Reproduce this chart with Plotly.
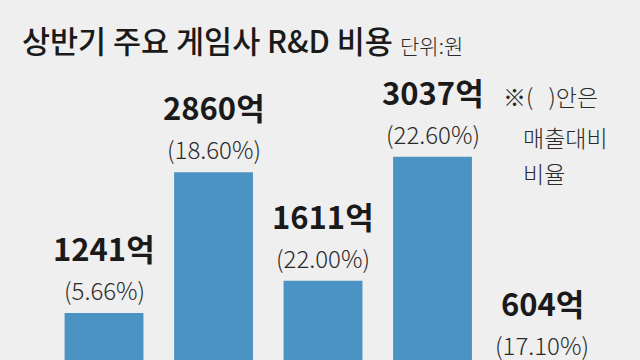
import plotly.graph_objects as go

# Data
positions = [0, 1, 2, 3, 4]
values = [1241, 2860, 1611, 3037, 604]
value_labels = ["1241억", "2860억", "1611억", "3037억", "604억"]
ratio_labels = ["(5.66%)", "(18.60%)", "(22.00%)", "(22.60%)", "(17.10%)"]

title_text = "상반기 주요 게임사 R&D 비용"
unit_text = "단위:원"
note_lines = ["※(   )안은", "매출대비", "비율"]

W, H = 640, 360
BG = "#efefef"
BAR = "#4a93c3"
FONT = "Noto Sans CJK KR"

Y_RANGE = [701, 4839]      # bottom of the bars is cropped, as in the source
LABEL_LIFT = 500           # label axis is the bar axis shifted by this many units

fig = go.Figure()
fig.add_trace(go.Bar(
    x=positions, y=values, marker=dict(color=BAR, line=dict(width=0)),
    width=0.72, hoverinfo="skip",
))

annotations = []
for x, v, vl, rl in zip(positions, values, value_labels, ratio_labels):
    annotations.append(dict(
        x=x, y=v, xref="x", yref="y2", text=vl, showarrow=False,
        yanchor="middle", xanchor="center", yshift=22,
        font=dict(family=FONT, size=31, color="#1a1a1a", weight=700),
    ))
    annotations.append(dict(
        x=x, y=v, xref="x", yref="y2", text=rl, showarrow=False,
        yanchor="middle", xanchor="center", yshift=-20,
        font=dict(family=FONT, size=24, color="#2a2a2a", weight=300),
    ))

# Title and unit
annotations.append(dict(
    x=20 / W, y=1 - 40 / H, xref="paper", yref="paper", text=title_text,
    showarrow=False, xanchor="left", yanchor="middle",
    font=dict(family=FONT, size=30.5, color="#1a1a1a", weight=500),
))
annotations.append(dict(
    x=398 / W, y=1 - 45 / H, xref="paper", yref="paper", text=unit_text,
    showarrow=False, xanchor="left", yanchor="middle",
    font=dict(family=FONT, size=21, color="#2a2a2a", weight=300),
))
# Note
note_pos = [(501, 96), (521, 137), (521, 173)]
for (px, py), line in zip(note_pos, note_lines):
    annotations.append(dict(
        x=px / W, y=1 - py / H, xref="paper", yref="paper", text=line,
        showarrow=False, xanchor="left", yanchor="middle",
        font=dict(family=FONT, size=23, color="#2a2a2a", weight=300),
    ))

fig.update_layout(
    width=W, height=H,
    margin=dict(l=0, r=0, t=0, b=0),
    paper_bgcolor=BG, plot_bgcolor=BG,
    showlegend=False,
    xaxis=dict(range=[-0.95, 4.895], visible=False, fixedrange=True),
    yaxis=dict(range=Y_RANGE, visible=False, fixedrange=True),
    yaxis2=dict(range=[Y_RANGE[0] - LABEL_LIFT, Y_RANGE[1] - LABEL_LIFT],
                overlaying="y", visible=False, fixedrange=True),
    annotations=annotations,
)

fig.write_html("out.html")
